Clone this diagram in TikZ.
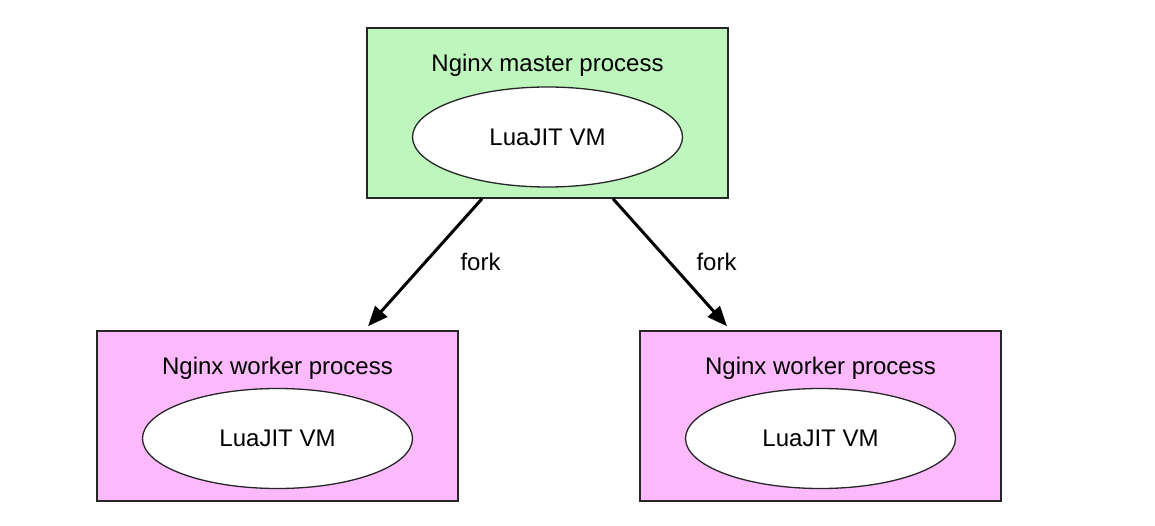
\documentclass[tikz,border=0pt]{standalone}
\usepackage{fontspec}
\setmainfont{Liberation Sans}
\usetikzlibrary{positioning,arrows.meta,shapes.geometric}
\definecolor{masterfill}{RGB}{190,246,190}
\definecolor{workerfill}{RGB}{252,186,252}

\begin{document}
\begin{tikzpicture}[x=1pt, y=-1pt, every node/.style={font=\fontsize{24}{28}\selectfont},
  proc/.style={draw=black!85, line width=1.5pt, minimum width=361pt, minimum height=170pt, inner sep=0pt},
  ttl/.style={anchor=base, inner sep=0pt},
  vm/.style={ellipse, draw=black!85, line width=1.3pt, fill=white, minimum width=270pt, minimum height=100pt, inner sep=0pt},
  lbl/.style={inner sep=0pt},
  arr/.style={-{Triangle[length=20pt, width=16pt]}, line width=3pt}]
\useasboundingbox (0,0) rectangle (1155,526);
\node[proc, fill=masterfill] (master) at (547.5,113) {};
\node[ttl] (mtitle) at ([yshift=-44.5pt]master.north) {Nginx master process};
\node[vm] (mvm) at ([yshift=-24pt]master.center) {LuaJIT VM};
\foreach \w/\x in {lworker/277.5, rworker/820.5} {
  \node[proc, fill=workerfill] (\w) at (\x,416) {};
  \node[ttl] (\w-title) at ([yshift=-44.5pt]\w.north) {Nginx worker process};
  \node[vm] (\w-vm) at ([yshift=-22.5pt]\w.center) {LuaJIT VM};
}
\draw[arr] ([xshift=-65.5pt]master.south) -- node[lbl, right=34pt, yshift=1pt] (lfork) {fork} ([xshift=90.5pt, yshift=4pt]lworker.north);
\draw[arr] ([xshift=65.5pt]master.south) -- node[lbl, right=25pt, yshift=1pt] (rfork) {fork} ([xshift=-93.5pt, yshift=4pt]rworker.north);
\end{tikzpicture}
\end{document}
